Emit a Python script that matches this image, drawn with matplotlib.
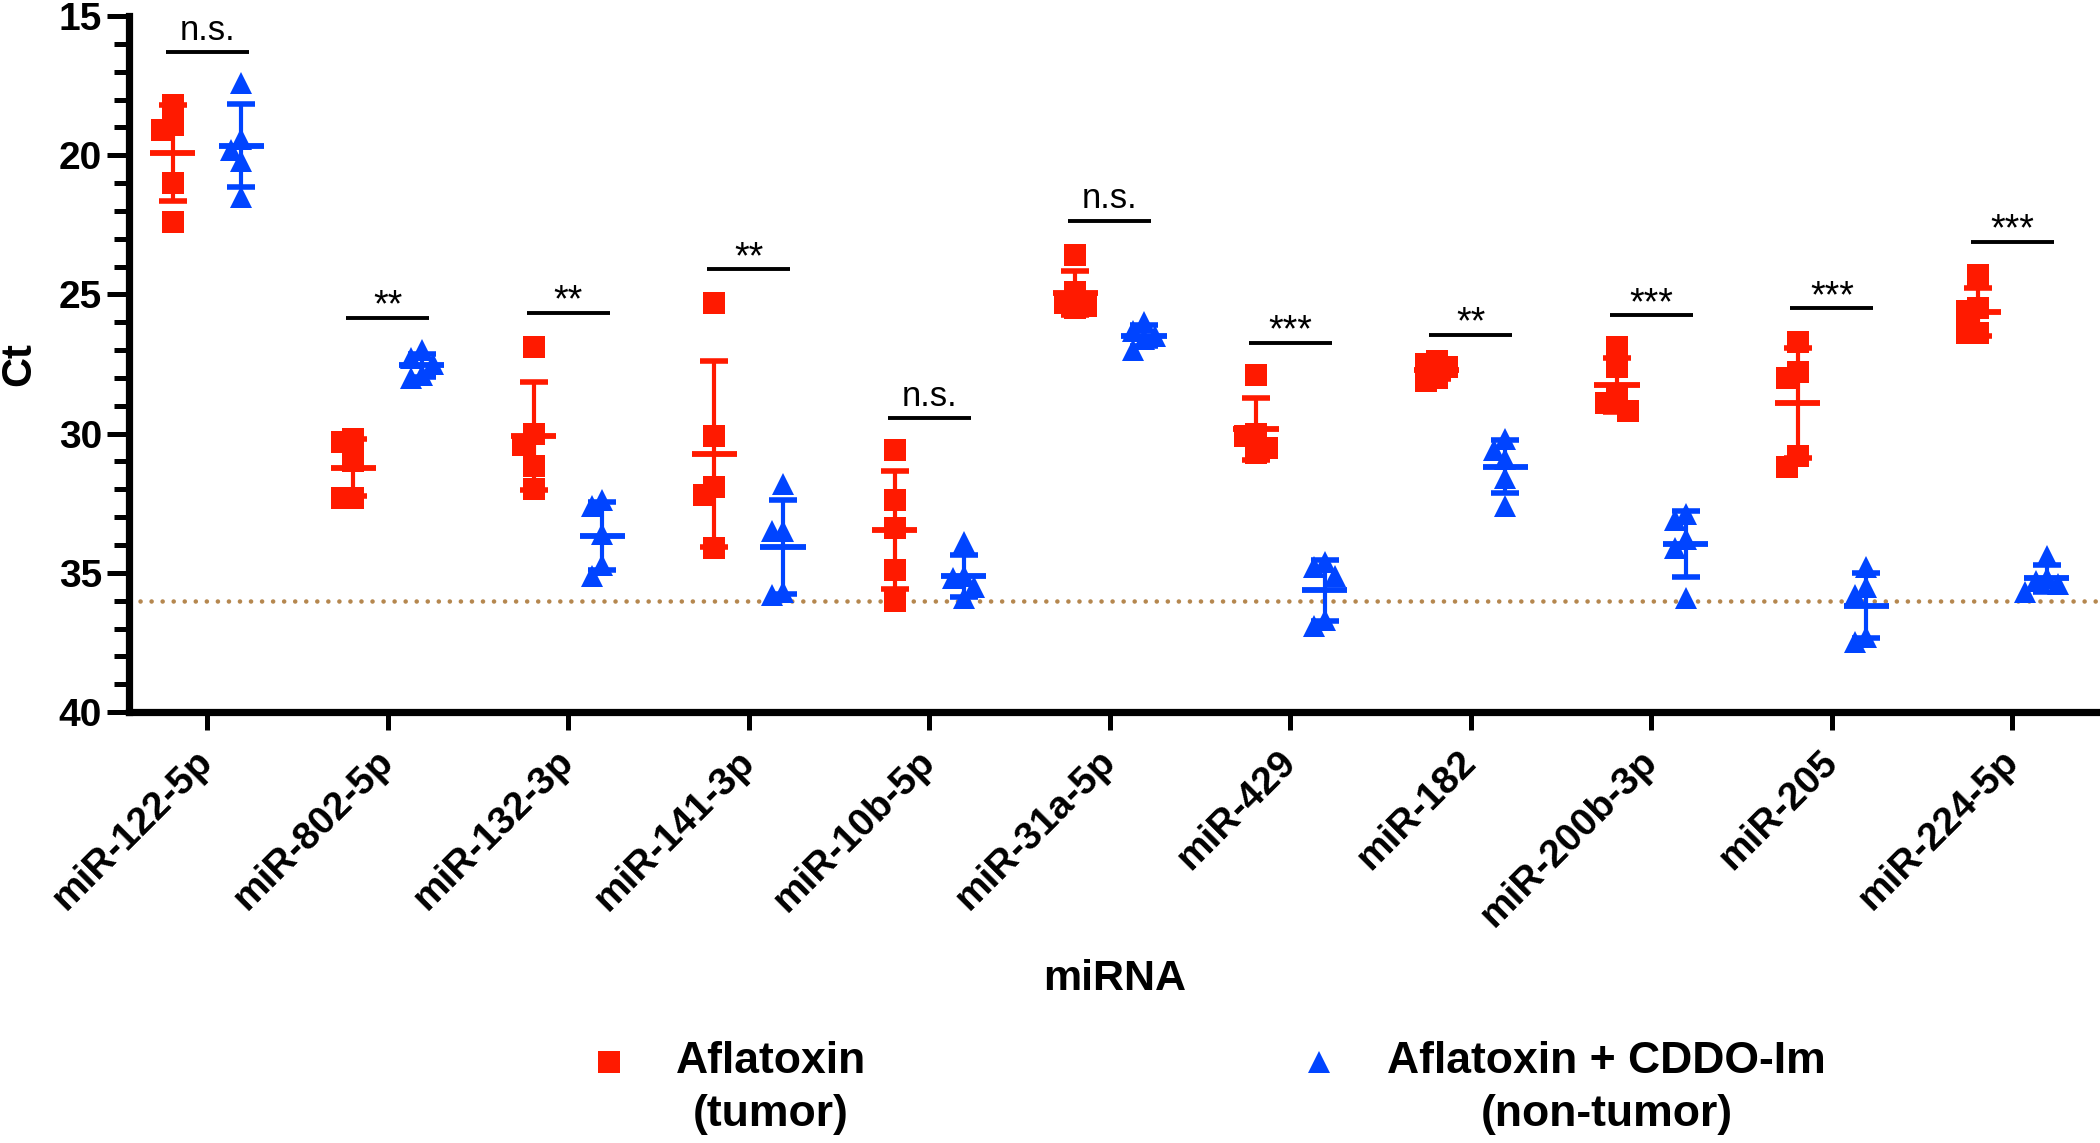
import numpy as np
import matplotlib
matplotlib.use('Agg')
import matplotlib.pyplot as plt
from matplotlib.lines import Line2D

plt.rcParams['font.family'] = ['Liberation Sans', 'DejaVu Sans']

# miRNA categories and Ct values (5 animals per group)
mirnas = ['miR-122-5p', 'miR-802-5p', 'miR-132-3p', 'miR-141-3p', 'miR-10b-5p',
          'miR-31a-5p', 'miR-429', 'miR-182', 'miR-200b-3p', 'miR-205', 'miR-224-5p']

tumor = [
    [18.2, 18.9, 19.1, 21.0, 22.4],
    [30.2, 30.3, 31.0, 32.3, 32.3],
    [26.9, 30.0, 30.4, 31.15, 32.0],
    [25.3, 30.1, 31.9, 32.2, 34.1],
    [30.6, 32.4, 33.4, 34.9, 36.0],
    [23.6, 24.9, 25.3, 25.4, 25.5],
    [27.9, 30.0, 30.1, 30.5, 30.7],
    [27.4, 27.5, 27.6, 28.0, 28.1],
    [26.9, 27.6, 28.7, 28.9, 29.2],
    [26.7, 27.8, 28.0, 30.8, 31.2],
    [24.3, 25.5, 25.6, 26.4, 26.4],
]

non_tumor = [
    [17.4, 19.4, 19.8, 20.2, 21.5],
    [27.0, 27.3, 27.5, 27.9, 28.0],
    [32.4, 32.6, 33.6, 34.7, 35.1],
    [31.8, 33.5, 33.5, 35.7, 35.8],
    [33.9, 35.1, 35.2, 35.5, 35.9],
    [26.0, 26.3, 26.5, 26.6, 27.0],
    [34.6, 34.8, 35.1, 36.7, 36.9],
    [30.2, 30.6, 30.9, 31.6, 32.6],
    [32.9, 33.1, 33.8, 34.1, 35.9],
    [34.8, 35.5, 35.8, 37.3, 37.5],
    [34.4, 35.2, 35.3, 35.4, 35.7],
]

sig_labels = ['n.s.', '**', '**', '**', 'n.s.', 'n.s.', '***', '**', '***', '***', '***']
sig_y = [16.3, 25.85, 25.65, 24.1, 29.45, 22.35, 26.75, 26.45, 25.75, 25.5, 23.1]
threshold = 36

legend_labels = ['Aflatoxin\n(tumor)', 'Aflatoxin + CDDO-Im\n(non-tumor)']

RED = '#ff1a00'
BLUE = '#0044ff'
BROWN = '#b5874f'
MS = 16.5


def spread(vals, step=0.06, tol=0.6):
    # crude GraphPad-like horizontal spread of overlapping points
    order = np.argsort(vals)
    placed = []
    offs = np.zeros(len(vals))
    for i in order:
        for k in [0, -1, 1, -2, 2]:
            if all(abs(vals[i] - v) > tol for v, kk in placed if kk == k):
                offs[i] = k * step
                placed.append((vals[i], k))
                break
    return offs


fig = plt.figure(figsize=(21, 11.43), dpi=100)
ax = fig.add_axes([0.0612, 0.377, 0.9388, 0.609])

x = np.arange(len(mirnas))
dx = 0.19

for i in range(len(mirnas)):
    for vals, sign, col, mk in [(tumor[i], -1, RED, 's'), (non_tumor[i], 1, BLUE, '^')]:
        v = np.array(vals)
        xc = x[i] + sign * dx
        ax.plot(xc + spread(v), v, ls='none', marker=mk, ms=MS, color=col, mew=0, zorder=3)
        m = v.mean()
        sd = v.std(ddof=1)
        ax.errorbar(xc, m, yerr=sd, fmt='none', ecolor=col, elinewidth=3.0,
                    capsize=10, capthick=4.0, zorder=4)
        ax.hlines(m, xc - 0.125, xc + 0.125, color=col, lw=4.2, zorder=4)

    # significance bar
    ax.hlines(sig_y[i], x[i] - 0.23, x[i] + 0.23, color='black', lw=2.8, zorder=2)
    off = 0.45 if sig_labels[i] == 'n.s.' else 0.05
    ax.text(x[i], sig_y[i] - off, sig_labels[i], ha='center', va='baseline',
            fontsize=25 if sig_labels[i] == 'n.s.' else 27)

ax.axhline(threshold, color=BROWN, lw=3.3, ls=(0, (0.01, 2.4)), dash_capstyle='round', zorder=1)

ax.set_xlim(-0.435, 10.485)
ax.set_ylim(40, 15)
ax.set_yticks(np.arange(15, 41, 5))
ax.set_yticks(np.arange(15, 41, 1), minor=True)
ax.set_xticks(x)
ax.set_xticklabels(mirnas, rotation=45, ha='right', va='center', rotation_mode='anchor',
                   fontsize=28, fontweight='bold')
for t in ax.get_yticklabels():
    t.set_fontweight('bold')
ax.tick_params(axis='y', which='major', length=16, width=3.6, labelsize=28, pad=3)
ax.tick_params(axis='y', which='minor', length=11, width=3.6)
ax.tick_params(axis='x', which='major', length=13, width=3.6, pad=19)

for s in ['top', 'right']:
    ax.spines[s].set_visible(False)
for s in ['left', 'bottom']:
    ax.spines[s].set_linewidth(5.2)

ax.set_ylabel('Ct', fontsize=30, fontweight='bold', labelpad=14)
ax.set_xlabel('miRNA', fontsize=31, fontweight='bold', labelpad=18)

# legend below the axes, marker level with the first text line
leg_marker_x = [0.290, 0.628]
leg_text_x = [0.367, 0.765]
for mk, col, lab, mx, tx in zip(['s', '^'], [RED, BLUE], legend_labels, leg_marker_x, leg_text_x):
    fig.add_artist(Line2D([mx], [0.071], transform=fig.transFigure, ls='none',
                          marker=mk, ms=MS, color=col, mew=0))
    fig.text(tx, 0.048, lab, ha='center', va='center', multialignment='center',
             fontsize=32, fontweight='bold', linespacing=1.38)

fig.savefig('out.png', dpi=100)
